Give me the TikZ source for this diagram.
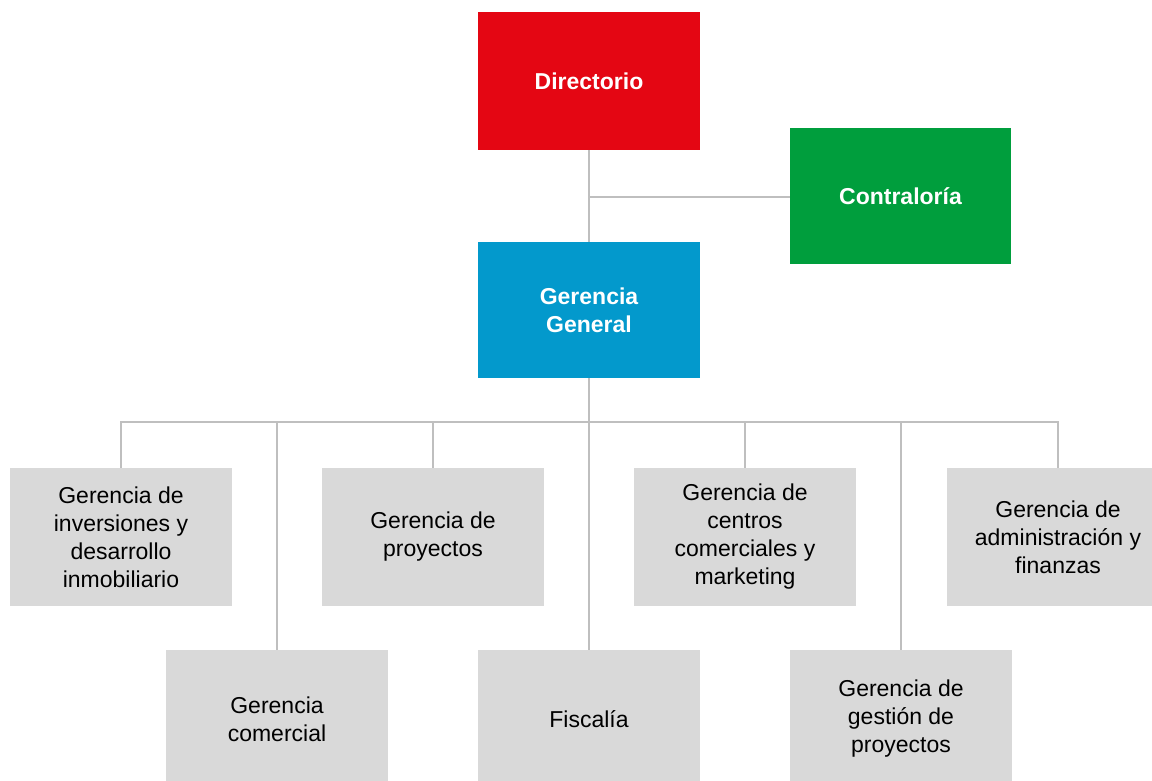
\documentclass[tikz,border=0pt]{standalone}
\usepackage{fontspec}
\setmainfont{Liberation Sans}
\definecolor{dirred}{RGB}{228,6,19}
\definecolor{contgreen}{RGB}{0,158,61}
\definecolor{gerblue}{RGB}{3,153,204}
\definecolor{boxgray}{RGB}{217,217,217}
\definecolor{linegray}{RGB}{191,191,191}
\tikzset{
  unit/.style={minimum width=222pt, minimum height=138pt, inner sep=0pt, align=center,
    font=\fontsize{23}{28}\selectfont},
  headbox/.style={unit, text=white, font=\fontsize{23}{28}\selectfont\bfseries},
  subbox/.style={unit, fill=boxgray, text=black},
  link/.style={draw=linegray, line width=2pt}
}
\begin{document}
\begin{tikzpicture}[x=1pt, y=-1pt]
\useasboundingbox (0,0) rectangle (1152,781);
\clip (0,0) rectangle (1152,781);
% top level
\node[headbox, fill=dirred] (dir) at (589,81) {Directorio};
\node[headbox, fill=contgreen, minimum width=221pt, minimum height=136pt] (cont) at (900.5,196) {Contralor\'ia};
\node[headbox, fill=gerblue, minimum height=136pt] (gg) at (589,310) {Gerencia\\General};
% second level
\node[subbox] (b1) at (121,537) {Gerencia de\\inversiones y\\desarrollo\\inmobiliario};
\node[subbox] (b2) at (277,719) {Gerencia\\comercial};
\node[subbox] (b3) at (433,537) {Gerencia de\\proyectos};
\node[subbox] (b4) at (589,719) {Fiscal\'ia};
\node[subbox] (b5) at (745,537) {Gerencia de\\centros\\comerciales y\\marketing};
\node[subbox] (b6) at (901,719) {Gerencia de\\gesti\'on de\\proyectos};
\node[subbox] (b7) at (1058,537) {Gerencia de\\administraci\'on y\\finanzas};
% connectors
\coordinate (mid) at (589,197);
\coordinate (bus) at (589,422);
\draw[link] (dir.south) -- (gg.north);
\draw[link] (mid) -- (mid -| cont.west);
\draw[link] (gg.south) -- (bus);
\draw[link] (bus) -| (b1.north);
\draw[link] (bus) -| (b2.north);
\draw[link] (bus) -| (b3.north);
\draw[link] (bus) -- (b4.north);
\draw[link] (bus) -| (b5.north);
\draw[link] (bus) -| (b6.north);
\draw[link] (bus) -| (b7.north);
\end{tikzpicture}
\end{document}
